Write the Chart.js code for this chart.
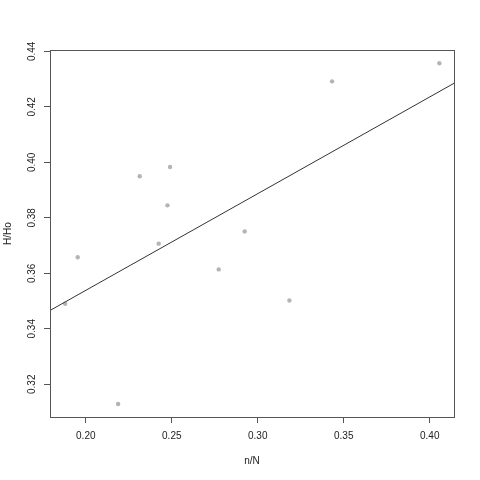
<!DOCTYPE html>
<html>
<head>
<meta charset="utf-8">
<script src="https://cdn.jsdelivr.net/npm/chart.js@4"></script>
<style>
  html, body { margin: 0; padding: 0; background: #fff; }
  #wrap { width: 480px; height: 480px; }
</style>
</head>
<body>
<div id="wrap"><canvas id="chart" width="480" height="480"></canvas></div>
<script>
const nN  = [0.1953, 0.2314, 0.2490, 0.2475, 0.2424, 0.2773, 0.1880, 0.2188, 0.2924, 0.3432, 0.4056, 0.3184];
const HHo = [0.3658, 0.3950, 0.3983, 0.3845, 0.3707, 0.3614, 0.3490, 0.3129, 0.3751, 0.4292, 0.4357, 0.3502];

// fitted line, ends at the plot edges
const fitX = [0.1792, 0.4141];
const fitY = [0.3466, 0.4285];

const xTicks = [0.20, 0.25, 0.30, 0.35, 0.40];
const yTicks = [0.32, 0.34, 0.36, 0.38, 0.40, 0.42, 0.44];

const axisCol = "#555";
const textCol = "#222";
const font = { family: "'Liberation Sans', Arial, sans-serif", size: 10 };

const boxPlugin = {
  id: "box",
  afterDraw(c) {
    const a = c.chartArea, ctx = c.ctx;
    ctx.save();
    ctx.strokeStyle = axisCol;
    ctx.lineWidth = 1;
    ctx.strokeRect(Math.round(a.left) + 0.5, Math.round(a.top) + 0.5,
      Math.round(a.right - a.left), Math.round(a.bottom - a.top));
    ctx.restore();
  }
};

new Chart(document.getElementById("chart"), {
  type: "scatter",
  data: {
    datasets: [
      {
        type: "line",
        data: fitX.map((x, i) => ({ x, y: fitY[i] })),
        borderColor: "#333",
        borderWidth: 1,
        pointRadius: 0,
        fill: false
      },
      {
        data: nN.map((x, i) => ({ x, y: HHo[i] })),
        backgroundColor: "#b4b4b4",
        borderColor: "#b4b4b4",
        borderWidth: 0,
        pointRadius: 2.2
      }
    ]
  },
  options: {
    responsive: false,
    animation: false,
    layout: { padding: { top: 50, right: 26, left: 0, bottom: 0 } },
    plugins: { legend: { display: false }, tooltip: { enabled: false } },
    scales: {
      x: {
        type: "linear",
        min: 0.1792,
        max: 0.4141,
        afterBuildTicks: s => { s.ticks = xTicks.map(v => ({ value: v })); },
        afterFit: s => { s.height = 63; },
        grid: { drawOnChartArea: false, drawTicks: true, tickLength: 6, color: axisCol },
        border: { display: true, color: axisCol },
        ticks: { color: textCol, font, padding: 7, maxRotation: 0, callback: v => v.toFixed(2) },
        title: { display: true, text: "n/N", color: textCol, font, padding: { top: 0, bottom: 13 } }
      },
      y: {
        type: "linear",
        min: 0.3082,
        max: 0.4405,
        afterBuildTicks: s => { s.ticks = yTicks.map(v => ({ value: v })); },
        afterFit: s => { s.width = 50; },
        grid: { drawOnChartArea: false, drawTicks: true, tickLength: 6, color: axisCol },
        border: { display: true, color: axisCol },
        ticks: { color: textCol, font, padding: 2, minRotation: 90, maxRotation: 90, crossAlign: "center", callback: v => v.toFixed(2) },
        title: { display: true, text: "H/Ho", color: textCol, font, padding: { top: 2, bottom: 0 } }
      }
    }
  },
  plugins: [boxPlugin]
});
</script>
</body>
</html>
